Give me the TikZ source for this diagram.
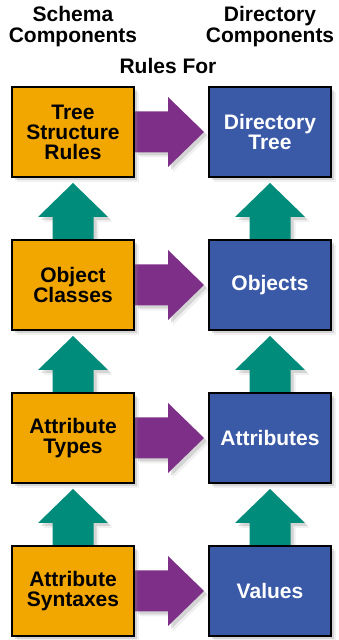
\documentclass[tikz,border=0pt]{standalone}
\usepackage{fontspec}
\setmainfont{Liberation Sans}
\usetikzlibrary{shadows}
\definecolor{boxorange}{HTML}{F2A600}
\definecolor{boxblue}{HTML}{3A5AA8}
\definecolor{arrowpurple}{HTML}{7E2F88}
\definecolor{arrowteal}{HTML}{008C7A}
\pgfdeclarelayer{background}
\pgfsetlayers{background,main}

\begin{document}
\begin{tikzpicture}[x=1pt, y=1pt,
        comp/.style={draw=black, line width=2pt, minimum width=122pt, minimum height=90pt,
            align=center, inner sep=0pt, font=\fontsize{21}{20}\selectfont\bfseries},
        shade/.style={drop shadow={shadow xshift=3pt, shadow yshift=-3pt, opacity=.25},
            drop shadow={shadow xshift=5pt, shadow yshift=-5pt, opacity=.12}},
        heading/.style={align=center, font=\fontsize{21}{21}\selectfont\bfseries}]
    \useasboundingbox (0,0) rectangle (338,640);
    \def\ysep{153}
    \def\shaft{20.5}
    \def\headw{35}

    % headings
    \node[heading] (schemahead) at (73,613) {Schema\\Components};
    \node[heading] (dirhead) at (270,613) {Directory\\Components};
    \node[heading] (rulesfor) at (168,574) {Rules For};

    % component boxes
    \foreach \i/\s/\d in {0/{Tree\\Structure\\Rules}/{Directory\\Tree},
                          1/{Object\\Classes}/{Objects},
                          2/{Attribute\\Types}/{Attributes},
                          3/{Attribute\\Syntaxes}/{Values}} {
        \pgfmathsetmacro{\yc}{508-\i*\ysep}
        \node[comp, shade, fill=boxorange] (schema\i) at (73,\yc) {\s};
        \node[comp, shade, fill=boxblue, text=white] (dir\i) at (270,\yc) {\d};
    }

    \begin{pgfonlayer}{background}
        % rules for
        \foreach \i in {0,...,3} {
            \fill[arrowpurple, shade] ([yshift=\shaft pt]schema\i.east)
                -- ([xshift=33pt, yshift=\shaft pt]schema\i.east)
                -- ([xshift=33pt, yshift=\headw pt]schema\i.east)
                -- ([xshift=-4pt]dir\i.west)
                -- ([xshift=33pt, yshift=-\headw pt]schema\i.east)
                -- ([xshift=33pt, yshift=-\shaft pt]schema\i.east)
                -- ([yshift=-\shaft pt]schema\i.east) -- cycle;
        }

        % upward arrows
        \foreach \c in {schema,dir} {
            \foreach \i/\j in {0/1, 1/2, 2/3} {
                \fill[arrowteal, shade] ([xshift=-\shaft pt, yshift=-2pt]\c\j.north)
                    -- ([xshift=-\shaft pt, yshift=22pt]\c\j.north)
                    -- ([xshift=-\headw pt, yshift=22pt]\c\j.north)
                    -- ([yshift=-5pt]\c\i.south)
                    -- ([xshift=\headw pt, yshift=22pt]\c\j.north)
                    -- ([xshift=\shaft pt, yshift=22pt]\c\j.north)
                    -- ([xshift=\shaft pt, yshift=-2pt]\c\j.north) -- cycle;
            }
        }
    \end{pgfonlayer}
\end{tikzpicture}
\end{document}
